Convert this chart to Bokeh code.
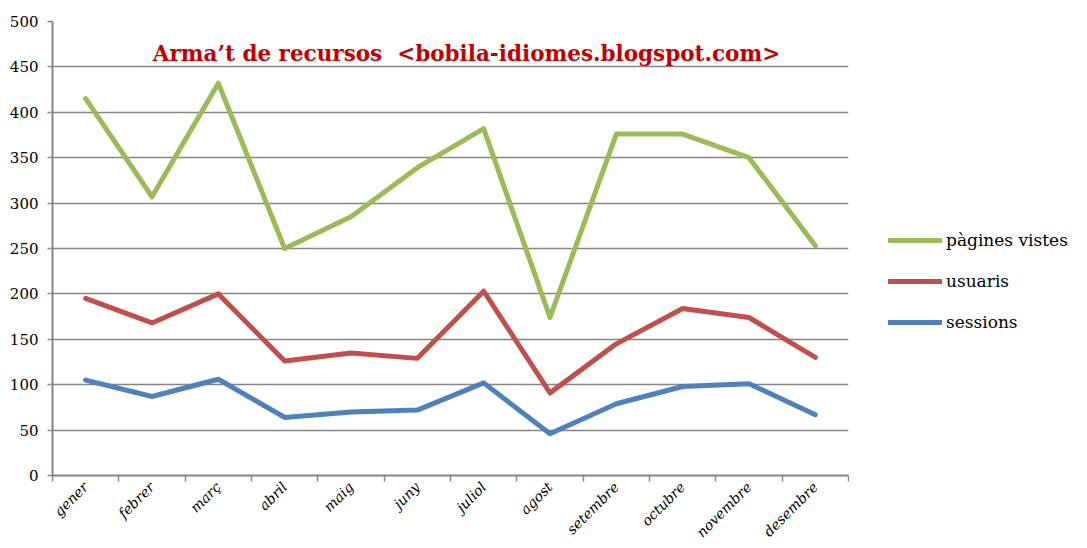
import math
from bokeh.plotting import figure
from bokeh.layouts import row
from bokeh.models import (FixedTicker, Range1d, Legend, LegendItem, Label)
from bokeh.embed import file_html
from bokeh.resources import INLINE

months = ["gener", "febrer", "març", "abril", "maig", "juny", "juliol",
          "agost", "setembre", "octubre", "novembre", "desembre"]
pagines_vistes = [415, 307, 432, 250, 285, 339, 382, 174, 376, 376, 350, 253]
usuaris = [195, 168, 200, 126, 135, 129, 203, 91, 145, 184, 174, 130]
sessions = [105, 87, 106, 64, 70, 72, 102, 46, 79, 98, 101, 67]
series_names = ["pàgines vistes", "usuaris", "sessions"]
y_ticks = list(range(0, 501, 50))

FONT = "DejaVu Serif"
GRID = "#868686"
colors = ["#9BBB59", "#C0504D", "#4F81BD"]
all_series = [pagines_vistes, usuaris, sessions]

xs = [i + 0.5 for i in range(len(months))]

p = figure(width=849, height=548, output_backend="svg", toolbar_location=None,
           x_range=Range1d(0, 12), y_range=Range1d(0, 500),
           min_border_left=52, min_border_top=21, min_border_right=1,
           min_border_bottom=73)
p.outline_line_color = None
p.background_fill_color = "white"
p.border_fill_color = "white"

for vals, c in zip(all_series, colors):
    p.line(xs, vals, line_color=c, line_width=5, line_cap="round", line_join="round")

# x axis
p.xaxis.ticker = FixedTicker(ticks=xs, minor_ticks=list(range(0, 13)))
p.xaxis.major_label_overrides = {x: m for x, m in zip(xs, months)}
p.xaxis.major_tick_line_color = None
p.xaxis.minor_tick_out = 6
p.xaxis.minor_tick_in = 0
p.xaxis.minor_tick_line_color = GRID
p.xaxis.minor_tick_line_width = 1.5
p.xaxis.axis_line_color = GRID
p.xaxis.axis_line_width = 2
p.xaxis.major_label_orientation = math.pi / 4
p.xaxis.major_label_text_font = FONT
p.xaxis.major_label_text_font_style = "italic"
p.xaxis.major_label_text_font_size = "14px"
p.xaxis.major_label_text_color = "black"
p.xaxis.major_label_standoff = 3

# y axis
p.yaxis.ticker = FixedTicker(ticks=y_ticks)
p.yaxis.axis_line_color = GRID
p.yaxis.axis_line_width = 2
p.yaxis.major_tick_line_color = GRID
p.yaxis.major_tick_line_width = 1.5
p.yaxis.major_tick_out = 5
p.yaxis.major_tick_in = 0
p.yaxis.minor_tick_line_color = None
p.yaxis.major_label_text_font = FONT
p.yaxis.major_label_text_font_size = "15px"
p.yaxis.major_label_text_color = "black"
p.yaxis.major_label_standoff = 9

p.xgrid.grid_line_color = None
p.ygrid.grid_line_color = GRID
p.ygrid.grid_line_width = 1.5

title = Label(x=414, y=422, x_units="screen", y_units="screen",
              text="Arma\u2019t de recursos \u00a0<bobila-idiomes.blogspot.com>",
              text_font=FONT, text_font_style="bold", text_font_size="21.5px",
              text_color="#C00000", text_align="center", text_baseline="middle")
p.add_layout(title)

# legend panel (separate figure so the legend sits outside the plot frame)
lg = figure(width=238, height=548, output_backend="svg", toolbar_location=None,
            x_range=Range1d(0, 1), y_range=Range1d(0, 1),
            x_axis_location=None, y_axis_location=None,
            min_border=0)
lg.outline_line_color = None
lg.grid.grid_line_color = None
lg_renderers = []
for vals, c in zip(all_series, colors):
    # same data, far outside this panel's ranges: only the legend swatch shows
    r = lg.line(xs, vals, line_color=c, line_width=5, line_cap="round")
    lg_renderers.append(r)

legend = Legend(items=[LegendItem(label=n, renderers=[r]) for n, r in zip(series_names, lg_renderers)],
                location=(39, 143), glyph_width=54, glyph_height=20, spacing=21,
                label_standoff=4, padding=0, margin=0, border_line_color=None,
                background_fill_alpha=0, label_text_font=FONT,
                label_text_font_size="17px", label_text_color="black")
lg.add_layout(legend, "center")

layout = row(p, lg, spacing=0)
open("out.html", "w").write(file_html(layout, INLINE))
